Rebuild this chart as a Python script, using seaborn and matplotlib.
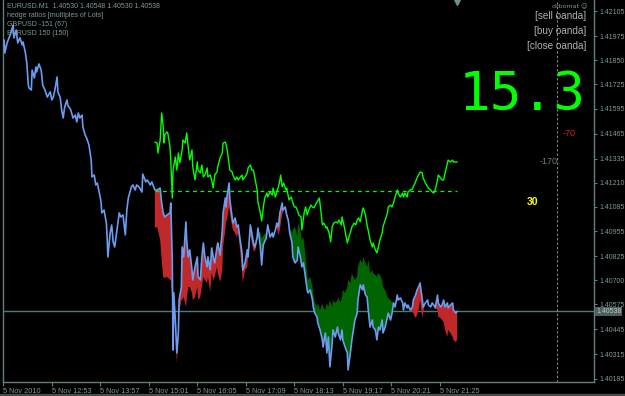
import matplotlib
matplotlib.use("Agg")
import numpy as np
import pandas as pd
import matplotlib.pyplot as plt
import seaborn as sns
from matplotlib.patches import Rectangle

# ---------------- data (time = minutes after 5 Nov 2010 11:49, M1 bars) ----------------
eur_t_early = [1, 2, 5, 9, 13, 14, 17, 19, 22, 25,
               26, 29, 31, 33, 34, 37, 38, 41, 43, 44,
               47, 50, 52, 55, 58, 62, 64, 66, 68, 71,
               72, 75, 77, 79, 81, 84, 85, 89, 92, 95,
               97, 99, 101, 104, 105, 108, 110, 113, 116, 117,
               120, 122, 124, 126, 129, 130, 133, 136, 137, 138,
               141, 143, 145, 147, 150, 153, 155, 158, 161, 163,
               165, 169, 171, 174, 176, 179, 183, 184, 188, 190,
               194, 196]
eur_close_early = [1.41955, 1.41887, 1.41940, 1.41981, 1.42033, 1.41966, 1.42007, 1.41940, 1.41966, 1.41929,
                   1.41945, 1.41892, 1.41835, 1.41720, 1.41704, 1.41694, 1.41798, 1.41757, 1.41814, 1.41788,
                   1.41830, 1.41798, 1.41720, 1.41694, 1.41657, 1.41684, 1.41642, 1.41657, 1.41694, 1.41762,
                   1.41684, 1.41657, 1.41590, 1.41548, 1.41605, 1.41642, 1.41616, 1.41590, 1.41548, 1.41563,
                   1.41527, 1.41574, 1.41548, 1.41563, 1.41501, 1.41459, 1.41443, 1.41407, 1.41328, 1.41240,
                   1.41250, 1.41198, 1.41208, 1.41172, 1.41109, 1.41052, 1.41067, 1.40999, 1.40926, 1.40822,
                   1.40947, 1.40989, 1.40900, 1.40874, 1.40963, 1.41052, 1.41031, 1.41041, 1.40937, 1.41067,
                   1.41130, 1.41188, 1.41198, 1.41172, 1.41198, 1.41188, 1.41161, 1.41255, 1.41214, 1.41224,
                   1.41198, 1.41214]

hedge_t = [200, 203, 207, 209, 211, 213, 216, 220, 221, 223,
           224, 225, 227, 229, 231, 232, 235, 236, 238, 241,
           242, 244, 246, 249, 250, 253, 256, 257, 260, 262,
           264, 266, 269, 270, 273, 275, 277, 279, 282, 283,
           286, 289, 290, 293, 294, 295, 298, 299, 302, 303,
           306, 308, 310, 312, 315, 316, 319, 322, 323, 326,
           328, 330, 332, 335, 336, 339, 341, 343, 347, 349,
           352, 355, 356, 359, 361, 363, 365, 368, 369, 372,
           374, 376, 378, 381, 382, 385, 388, 389, 392, 394,
           396, 398, 401, 402, 405, 408, 409, 411, 414, 415,
           418, 421, 422, 425, 427, 429, 431, 434, 435, 438,
           441, 442, 445, 447, 448, 451, 454, 455, 458, 460,
           462, 464, 467, 468, 471, 474, 475, 478, 480, 482,
           484, 487, 488, 491, 493, 495, 497, 500, 501, 504,
           507, 508, 511, 513, 515, 517, 520, 521, 524, 527,
           528, 530, 533, 534, 537, 540, 541, 544, 546, 548,
           550, 553, 554, 557, 560, 561, 564, 566, 568, 570,
           573, 574, 577, 579, 581, 583, 586, 587, 590, 593,
           594, 597, 599]
eur_close_late = [1.41172, 1.41172, 1.41182, 1.41104, 1.41052, 1.41031, 1.41041, 1.41052, 1.41104, 1.40806,
                  1.40336, 1.40634, 1.40493, 1.40321, 1.40425, 1.40597, 1.40665, 1.40874, 1.40822, 1.41005,
                  1.40911, 1.40822, 1.40859, 1.40754, 1.40702, 1.40770, 1.40822, 1.40718, 1.40702, 1.40817,
                  1.40895, 1.40822, 1.40770, 1.40822, 1.40754, 1.40869, 1.40822, 1.40791, 1.40874, 1.40895,
                  1.40832, 1.40963, 1.41052, 1.41130, 1.41083, 1.41135, 1.41208, 1.41120, 1.41026, 1.40999,
                  1.41026, 1.40979, 1.40989, 1.40926, 1.40843, 1.40754, 1.40791, 1.40859, 1.40822, 1.40989,
                  1.40947, 1.40895, 1.40874, 1.40926, 1.40973, 1.40885, 1.40780, 1.40885, 1.40921, 1.40989,
                  1.40926, 1.40947, 1.40926, 1.40963, 1.40999, 1.40979, 1.41052, 1.41104, 1.41067, 1.41083,
                  1.41041, 1.41015, 1.40947, 1.40895, 1.40822, 1.40791, 1.40806, 1.40874, 1.40822, 1.40770,
                  1.40791, 1.40738, 1.40650, 1.40634, 1.40650, 1.40597, 1.40561, 1.40529, 1.40509, 1.40477,
                  1.40441, 1.40389, 1.40352, 1.40425, 1.40321, 1.40404, 1.40248, 1.40373, 1.40441, 1.40404,
                  1.40456, 1.40425, 1.40389, 1.40441, 1.40389, 1.40352, 1.40321, 1.40232, 1.40321, 1.40389,
                  1.40441, 1.40493, 1.40529, 1.40597, 1.40676, 1.40650, 1.40676, 1.40623, 1.40613, 1.40529,
                  1.40456, 1.40493, 1.40456, 1.40441, 1.40389, 1.40456, 1.40441, 1.40493, 1.40425, 1.40456,
                  1.40509, 1.40529, 1.40493, 1.40529, 1.40582, 1.40561, 1.40623, 1.40597, 1.40608, 1.40582,
                  1.40545, 1.40582, 1.40556, 1.40571, 1.40545, 1.40561, 1.40597, 1.40623, 1.40650, 1.40665,
                  1.40686, 1.40597, 1.40561, 1.40582, 1.40597, 1.40571, 1.40561, 1.40582, 1.40571, 1.40556,
                  1.40623, 1.40582, 1.40561, 1.40571, 1.40597, 1.40561, 1.40582, 1.40556, 1.40571, 1.40582,
                  1.40545, 1.40529, 1.40538]
hedge_synth = [1.40973, 1.40979, 1.40911, 1.40806, 1.40718, 1.40712, 1.40718, 1.40702, 1.40702, 1.40597,
               1.40310, 1.40545, 1.40441, 1.40268, 1.40389, 1.40529, 1.40597, 1.40597, 1.40613, 1.40561,
               1.40597, 1.40665, 1.40665, 1.40634, 1.40597, 1.40613, 1.40665, 1.40597, 1.40613, 1.40665,
               1.40718, 1.40702, 1.40686, 1.40718, 1.40639, 1.40738, 1.40702, 1.40718, 1.40770, 1.40738,
               1.40691, 1.40754, 1.40874, 1.40963, 1.41005, 1.41015, 1.41083, 1.41052, 1.40979, 1.40963,
               1.40947, 1.40926, 1.40947, 1.40874, 1.40754, 1.40686, 1.40754, 1.40770, 1.40822, 1.40937,
               1.40895, 1.40859, 1.40848, 1.40900, 1.40952, 1.40952, 1.40921, 1.40932, 1.40952, 1.40994,
               1.40937, 1.40952, 1.40932, 1.40963, 1.40973, 1.40937, 1.40963, 1.41041, 1.41057, 1.41078,
               1.41052, 1.41026, 1.40973, 1.40947, 1.40963, 1.40979, 1.40926, 1.40999, 1.40963, 1.40911,
               1.40926, 1.40859, 1.40738, 1.40702, 1.40718, 1.40665, 1.40634, 1.40582, 1.40561, 1.40582,
               1.40545, 1.40582, 1.40561, 1.40545, 1.40582, 1.40561, 1.40597, 1.40561, 1.40597, 1.40582,
               1.40597, 1.40613, 1.40582, 1.40613, 1.40650, 1.40634, 1.40665, 1.40702, 1.40686, 1.40738,
               1.40718, 1.40702, 1.40718, 1.40770, 1.40806, 1.40791, 1.40822, 1.40791, 1.40770, 1.40806,
               1.40738, 1.40754, 1.40738, 1.40728, 1.40718, 1.40738, 1.40728, 1.40702, 1.40665, 1.40650,
               1.40613, 1.40608, 1.40597, 1.40587, 1.40582, 1.40571, 1.40623, 1.40597, 1.40608, 1.40582,
               1.40545, 1.40582, 1.40556, 1.40571, 1.40545, 1.40535, 1.40529, 1.40503, 1.40519, 1.40545,
               1.40597, 1.40503, 1.40535, 1.40582, 1.40597, 1.40571, 1.40561, 1.40582, 1.40571, 1.40556,
               1.40545, 1.40509, 1.40503, 1.40493, 1.40482, 1.40441, 1.40404, 1.40441, 1.40425, 1.40404,
               1.40389, 1.40378, 1.40389]

spread_t = [200, 203, 204, 207, 209, 211, 212, 213, 216, 217,
            220, 221, 223, 224, 227, 229, 231, 233, 236, 237,
            240, 242, 244, 246, 249, 250, 253, 256, 257, 260,
            262, 264, 266, 269, 270, 273, 275, 277, 279, 282,
            283, 286, 289, 290, 293, 295, 296, 299, 302, 303,
            306, 308, 310, 312, 315, 316, 319, 322, 323, 326,
            328, 330, 332, 335, 336, 339, 341, 343, 345, 348,
            349, 352, 355, 356, 359, 361, 363, 365, 366, 368,
            370, 373, 374, 377, 380, 381, 384, 386, 388, 390,
            393, 394, 397, 399, 401, 403, 406, 408, 410, 413,
            414, 417, 419, 421, 423, 426, 427, 430, 432, 434,
            436, 439, 441, 443, 446, 447, 450, 452, 454, 456,
            459, 460, 463, 465, 467, 469, 471, 474, 475, 478,
            480, 482, 484, 487, 488, 491, 493, 495, 497, 500,
            501, 504, 507, 508, 511, 513, 515, 517, 520, 521,
            524, 527, 528, 530, 533, 534, 537, 540, 541, 544,
            546, 548, 550, 553, 554, 557, 560, 561, 564, 566,
            568, 570, 573, 574, 577, 579, 581, 583, 586, 587,
            590, 593, 594, 597, 599]
spread_v = [1.41422, 1.41417, 1.41365, 1.41433, 1.41574, 1.41501, 1.41417, 1.41459, 1.41475, 1.41470,
            1.41396, 1.41328, 1.41130, 1.41276, 1.41344, 1.41276, 1.41365, 1.41313, 1.41381, 1.41433,
            1.41417, 1.41470, 1.41396, 1.41328, 1.41381, 1.41292, 1.41224, 1.41318, 1.41276, 1.41261,
            1.41302, 1.41240, 1.41250, 1.41287, 1.41240, 1.41250, 1.41224, 1.41182, 1.41250, 1.41266,
            1.41292, 1.41339, 1.41365, 1.41417, 1.41422, 1.41391, 1.41365, 1.41276, 1.41266, 1.41250,
            1.41224, 1.41240, 1.41224, 1.41235, 1.41250, 1.41224, 1.41240, 1.41261, 1.41287, 1.41302,
            1.41276, 1.41276, 1.41235, 1.41172, 1.41109, 1.41057, 1.41010, 1.41078, 1.41130, 1.41156,
            1.41135, 1.41161, 1.41146, 1.41182, 1.41135, 1.41161, 1.41188, 1.41224, 1.41250, 1.41188,
            1.41208, 1.41172, 1.41182, 1.41120, 1.41135, 1.41120, 1.41083, 1.41083, 1.41067, 1.41041,
            1.41031, 1.40963, 1.41052, 1.41083, 1.41041, 1.41067, 1.41093, 1.41083, 1.41078, 1.41104,
            1.41109, 1.41130, 1.41067, 1.40989, 1.40999, 1.40973, 1.40979, 1.40947, 1.40900, 1.40979,
            1.40999, 1.41005, 1.40999, 1.41015, 1.40989, 1.41031, 1.40979, 1.40937, 1.40895, 1.40926,
            1.40963, 1.40979, 1.40999, 1.40989, 1.41015, 1.41026, 1.41005, 1.41067, 1.41078, 1.41041,
            1.40989, 1.40952, 1.40911, 1.40874, 1.40895, 1.40859, 1.40843, 1.40874, 1.40911, 1.40947,
            1.40979, 1.41015, 1.41052, 1.41083, 1.41093, 1.41083, 1.41104, 1.41135, 1.41172, 1.41156,
            1.41135, 1.41156, 1.41135, 1.41156, 1.41135, 1.41161, 1.41172, 1.41177, 1.41188, 1.41214,
            1.41235, 1.41250, 1.41266, 1.41261, 1.41235, 1.41208, 1.41188, 1.41182, 1.41172, 1.41161,
            1.41156, 1.41172, 1.41224, 1.41250, 1.41235, 1.41224, 1.41224, 1.41261, 1.41313, 1.41328,
            1.41318, 1.41328, 1.41318, 1.41318, 1.41318]

entry_level = 1.41168
entry_span = [200, 599]
current_price = 1.40538
separator_t = 731
shift_marker_t = 599

xtick_t = [0, 64, 128, 192, 256, 320, 384, 448, 512, 576]
xtick_labels = ["5 Nov 2010", "5 Nov 12:53", "5 Nov 13:57", "5 Nov 15:01", "5 Nov 16:05",
                "5 Nov 17:09", "5 Nov 18:13", "5 Nov 19:17", "5 Nov 20:21", "5 Nov 21:25"]
ytick_labels = ["1.42105", "1.41975", "1.41850", "1.41725", "1.41595", "1.41465", "1.41335", "1.41210",
                "1.41085", "1.40955", "1.40825", "1.40700", "1.40575", "1.40445", "1.40315", "1.40185"]

info_lines = ["EURUSD.M1  1.40530 1.40548 1.40530 1.40538",
              "hedge ratios [multiples of Lots]",
              "GBPUSD -151 (67)",
              "EURUSD 150 (150)"]
buttons = ["[sell oanda]", "[buy oanda]", "[close oanda]"]
big_value = "15.3"
level_labels = ["-70", "-170", "30"]

# ---------------- style ----------------
AXC = "#5d8080"
TXC = "#7b9a9a"
sns.set_theme(style="dark", rc={"axes.facecolor": "black", "figure.facecolor": "black",
                                "axes.edgecolor": AXC, "axes.grid": False})
plt.rcParams["font.family"] = ["Liberation Sans", "DejaVu Sans"]

W, H = 625, 396
fig = plt.figure(figsize=(W / 100, H / 100), dpi=100, facecolor="black")
ax = fig.add_axes([3 / W, 14 / H, 591 / W, 382 / H])
ax.set_facecolor("black")

eur = pd.DataFrame({"t": eur_t_early + hedge_t, "close": eur_close_early + eur_close_late})
spr = pd.DataFrame({"t": spread_t, "v": spread_v})

th = np.array(hedge_t, dtype=float)
bh = np.array(eur_close_late)
sh = np.array(hedge_synth)
ax.fill_between(th, sh, bh, where=sh < bh, interpolate=True, color="#c0282a", lw=0, zorder=2)
ax.fill_between(th, sh, bh, where=sh > bh, interpolate=True, color="#006400", lw=0, zorder=2)

ax.axhline(current_price, color="#4e7a7a", lw=1, zorder=1)
ax.axvline(separator_t, color="#8a8a8a", lw=0.8, ls=(0, (2, 2)), zorder=1)

sns.lineplot(data=eur, x="t", y="close", ax=ax, color="#6a9cf0", lw=1.2,
             sort=False, estimator=None, zorder=3)
ax.hlines(entry_level, entry_span[0], entry_span[1], colors="#00ff00",
          linestyles=(0, (3, 3)), lw=0.9, zorder=4)
sns.lineplot(data=spr, x="t", y="v", ax=ax, color="#00ff00", lw=1.0,
             sort=False, estimator=None, zorder=5)

ax.set_xlim(-0.4, 779.5)
ax.set_ylim(1.40169, 1.42164)
ax.plot([shift_marker_t], [1.42152], marker="v", ms=5, color="#6f9090", clip_on=False, zorder=6)

ax.set_xlabel("")
ax.set_ylabel("")
ax.set_xticks(xtick_t)
ax.set_xticklabels(xtick_labels, ha="left")
ax.yaxis.tick_right()
ax.set_yticks([float(s) for s in ytick_labels])
ax.set_yticklabels(ytick_labels)
ax.tick_params(axis="x", colors=AXC, labelcolor=TXC, length=3, width=0.8, pad=1.5, labelsize=5.3,
               bottom=True)
ax.tick_params(axis="y", colors=AXC, labelcolor=TXC, length=2, width=0.8, pad=2, labelsize=5.0,
               right=True, left=False)
for side in ["left", "right", "bottom"]:
    ax.spines[side].set_color(AXC)
    ax.spines[side].set_linewidth(1)
    ax.spines[side].set_visible(True)
ax.spines["top"].set_visible(False)

# current price tag
ax.text(1 + 2 / 591, current_price, f"{current_price:.5f}", transform=ax.get_yaxis_transform(),
        ha="left", va="center", fontsize=5.0, color="#b8c8c8", zorder=10,
        bbox=dict(boxstyle="square,pad=0.15", fc="#4d5f5f", ec="none"), clip_on=False)

def fx(px):
    return px / W

def fy(py):
    return 1 - py / H

for i, line in enumerate(info_lines):
    fig.text(fx(7), fy(6.7 + 8.8 * i), line, ha="left", va="center", fontsize=5, color=TXC)

fig.text(fx(588), fy(6.5), "drbomat \u263A", ha="right", va="center", fontsize=4.5,
         color=TXC, family=["DejaVu Sans"])
for i, b in enumerate(buttons):
    fig.text(fx(586), fy(15.7 + 15 * i), b, ha="right", va="center", fontsize=7.2, color="#b0b0b0")

fig.text(fx(459), fy(110), big_value, ha="left", va="baseline", fontsize=38,
         family=["DejaVu Sans Mono"], color="#00ff00")
fig.text(fx(569), fy(133.5), level_labels[0], ha="center", va="center", fontsize=6.5, color="#d42020")
fig.text(fx(548.5), fy(161), level_labels[1], ha="center", va="center", fontsize=6.5, color="#6a8484")
fig.text(fx(532.5), fy(202), level_labels[2], ha="center", va="center", fontsize=7.5,
         color="#ffff00", weight="bold")

fig.patches.append(Rectangle((0, 0), 1, 2 / H, transform=fig.transFigure, color="#4a4a4a",
                             zorder=0))

fig.savefig("out.png", dpi=100, facecolor="black")
